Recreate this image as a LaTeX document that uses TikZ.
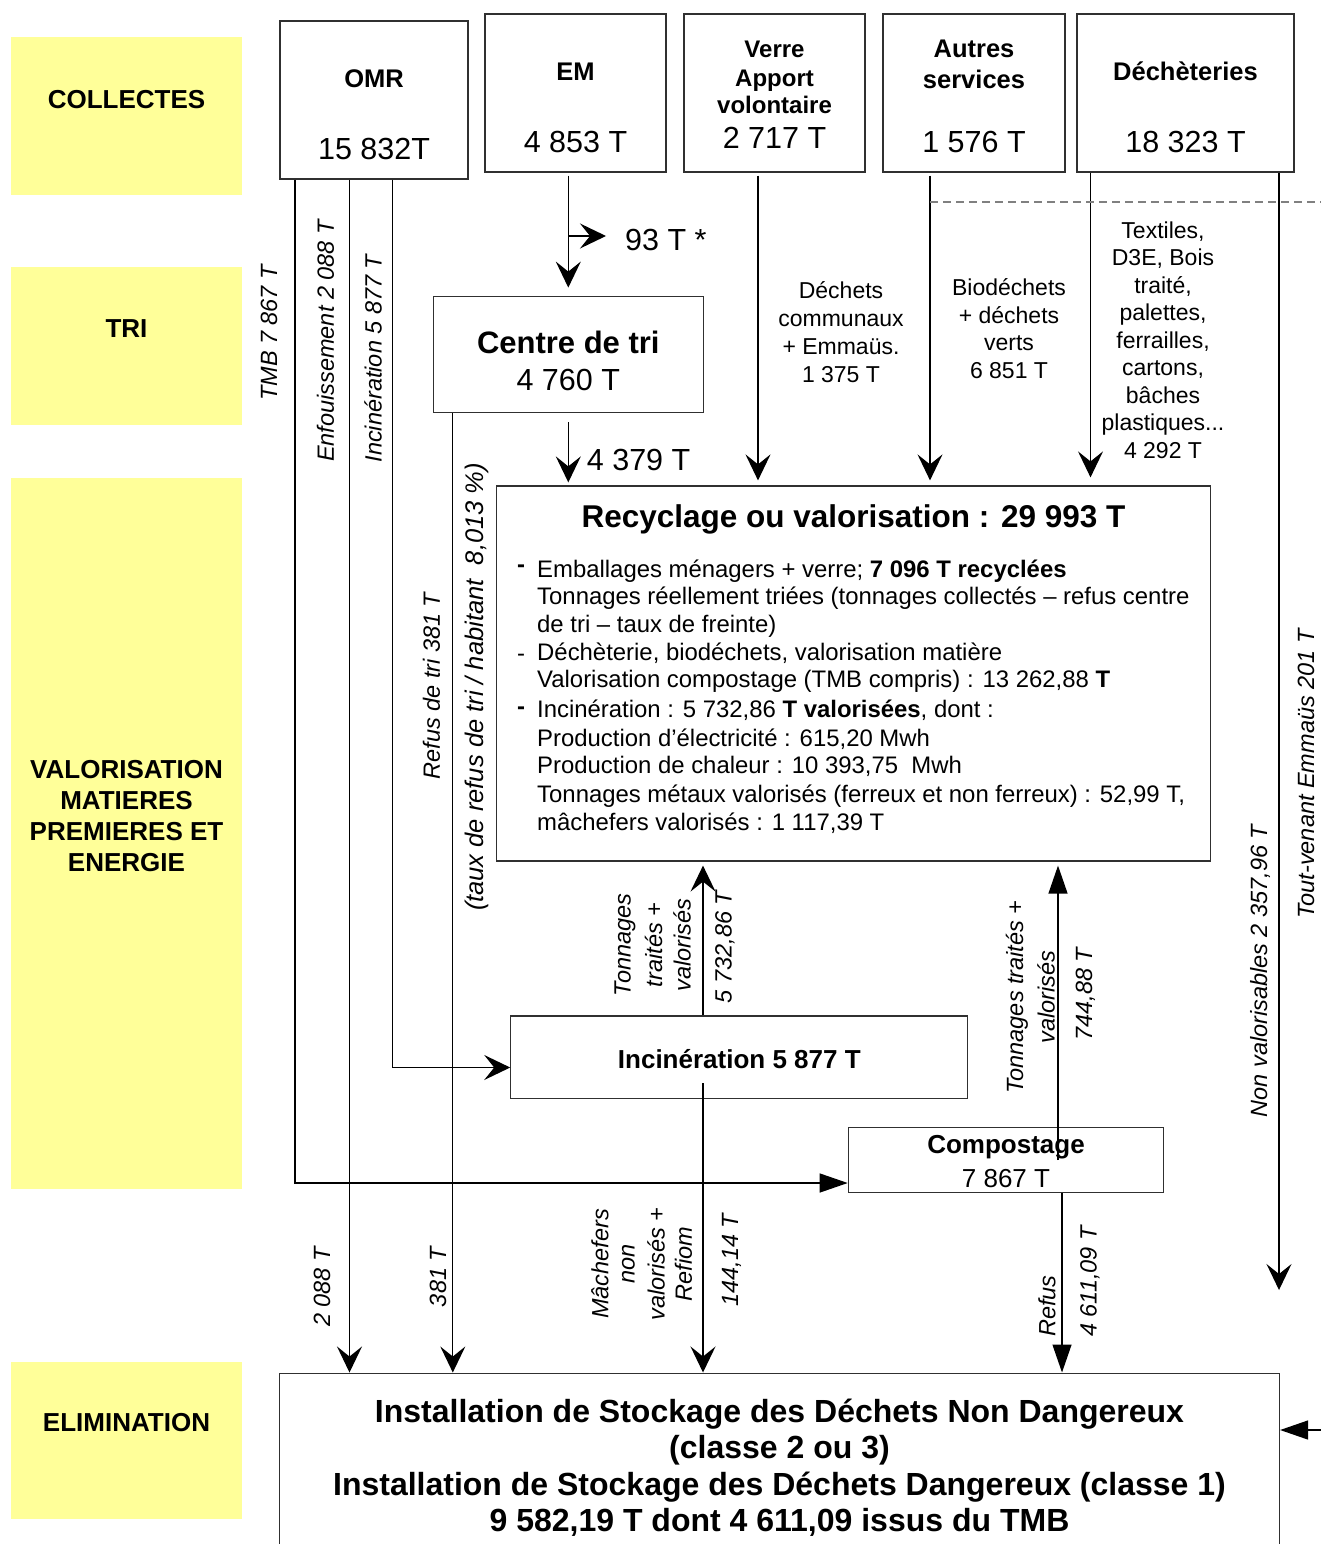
\documentclass[tikz,border=0pt]{standalone}
\usepackage{fontspec}
\setmainfont{Liberation Sans}
\usetikzlibrary{arrows.meta}
\definecolor{bandyellow}{HTML}{FFFF99}
\definecolor{boxline}{HTML}{303030}
\definecolor{dashgray}{HTML}{808080}
\newcommand\fsz[2]{\fontsize{#1}{#2}\selectfont}
\tikzset{
  band/.style={fill=bandyellow, draw=none, inner sep=0pt, minimum width=231pt},
  bandtxt/.style={font=\bfseries\fsz{26}{30.7}, align=center, inner sep=0pt},
  box/.style={draw=boxline, line width=1.2pt, inner sep=0pt},
  ttl/.style={font=\bfseries\fsz{25.5}{30}, inner sep=0pt, anchor=base},
  num/.style={font=\fsz{30.5}{36}, inner sep=0pt, anchor=base},
  body/.style={font=\fsz{23.9}{27.7}, inner sep=0pt, anchor=base west},
  note/.style={font=\fsz{23}{27.6}, inner sep=0pt, anchor=base},
  vlab/.style={font=\itshape\fsz{23.5}{28}, rotate=90, inner sep=0pt},
  flow/.style={line width=1.3pt, -{Stealth[length=26pt,width=25pt,inset=10pt]}},
  tri/.style={line width=1.3pt, -{Triangle[length=28pt,width=19pt]}},
}
\begin{document}
\begin{tikzpicture}[x=1pt,y=-1pt]
\useasboundingbox (0,0) rectangle (1321,1544);
\clip (0,0) rectangle (1321,1544);
\fill[white] (0,0) rectangle (1321,1544);

% bands
\node[band, minimum height=157pt] (bcol) at (126.5,116) {};
\node[band, minimum height=158pt] (btri) at (126.5,346) {};
\node[band, minimum height=711pt] (bval) at (126.5,833) {};
\node[band, minimum height=157pt] (belim) at (126.5,1440) {};
\node[bandtxt] (tcol) at (126.5,100) {COLLECTES};
\node[bandtxt] (ttri) at (126.5,329) {TRI};
\node[bandtxt] (tval) at (126.5,816) {VALORISATION\\MATIERES\\PREMIERES ET\\ENERGIE};
\node[bandtxt] (telim) at (126.5,1423) {ELIMINATION};

% top boxes
\node[box, minimum width=188pt, minimum height=158pt] (omr) at (374,100) {};
\node[ttl] (omrt) at (374,88) {OMR};
\node[num] (omrn) at (374,160) {15 832T};
\node[box, minimum width=181pt, minimum height=158pt] (em) at (575.5,93) {};
\node[ttl] (emt) at (575.5,81) {EM};
\node[num] (emn) at (575.5,153) {4 853 T};
\node[box, minimum width=181pt, minimum height=158pt] (verre) at (774.5,93) {};
\node[ttl, font=\bfseries\fsz{24}{28}] (vt1) at (774.5,58) {Verre};
\node[ttl, font=\bfseries\fsz{24}{28}] (vt2) at (774.5,86.5) {Apport};
\node[ttl, font=\bfseries\fsz{24}{28}] (vt3) at (774.5,113.5) {volontaire};
\node[num] (vn) at (774.5,148.5) {2 717 T};
\node[box, minimum width=182pt, minimum height=158pt] (autres) at (974,93) {};
\node[ttl] (at1) at (974,58) {Autres};
\node[ttl] (at2) at (974,89) {services};
\node[num] (an) at (974,152) {1 576 T};
\node[box, minimum width=217pt, minimum height=158pt] (dech) at (1185.5,93) {};
\node[ttl] (dt) at (1185.5,81) {Déchèteries};
\node[num] (dn) at (1185.5,152) {18 323 T};

% centre de tri
\node[box, minimum width=270pt, minimum height=116pt] (ctri) at (568.3,354.7) {};
\node[ttl, font=\bfseries\fsz{31}{36}] (ctrit) at (568.3,353) {Centre de tri};
\node[num] (ctrin) at (568.3,390) {4 760 T};

% notes
\node[note] (n1a) at (841,298) {Déchets};
\node[note] (n1b) at (841,326) {communaux};
\node[note] (n1c) at (841,354) {+ Emmaüs.};
\node[note] (n1d) at (841,382) {1 375 T};
\node[note] (n2a) at (1009,295) {Biodéchets};
\node[note] (n2b) at (1009,323) {+ déchets};
\node[note] (n2c) at (1009,350) {verts};
\node[note] (n2d) at (1009,378) {6 851 T};
\node[note] (n3a) at (1163,238) {Textiles,};
\node[note] (n3b) at (1163,265.5) {D3E, Bois};
\node[note] (n3c) at (1163,293) {traité,};
\node[note] (n3d) at (1163,320.5) {palettes,};
\node[note] (n3e) at (1163,348) {ferrailles,};
\node[note] (n3f) at (1163,375.5) {cartons,};
\node[note] (n3g) at (1163,403) {bâches};
\node[note] (n3h) at (1163,430.5) {plastiques...};
\node[note] (n3i) at (1163,458) {4 292 T};

% recyclage
\node[box, minimum width=714pt, minimum height=375pt] (rec) at (853.5,673.5) {};
\node[ttl, font=\bfseries\fsz{31.5}{36}] (rect) at (853.5,527) {Recyclage ou valorisation : 29 993 T};
\node[font=\bfseries\fsz{23.9}{28}, inner sep=0pt, anchor=base] (d1) at (521,572.5) {-};
\node[font=\fsz{23.9}{28}, inner sep=0pt, anchor=base] (d2) at (521,661) {-};
\node[font=\bfseries\fsz{23.9}{28}, inner sep=0pt, anchor=base] (d3) at (521,714.5) {-};
\node[body] (r1) at (537,577) {Emballages ménagers + verre; \textbf{7 096 T recyclées}};
\node[body] (r2) at (537,604.5) {Tonnages réellement triées (tonnages collectés – refus centre};
\node[body] (r3) at (537,632) {de tri – taux de freinte)};
\node[body] (r4) at (537,660) {Déchèterie, biodéchets, valorisation matière};
\node[body] (r5) at (537,687) {Valorisation compostage (TMB compris) : 13 262,88 \textbf{T}};
\node[body] (r6) at (537,717) {Incinération : 5 732,86 \textbf{T valorisées}, dont :};
\node[body] (r7) at (537,746.5) {Production d'électricité : 615,20 Mwh};
\node[body] (r8) at (537,773.5) {Production de chaleur : 10 393,75\ \ Mwh};
\node[body] (r9) at (537,802) {Tonnages métaux valorisés (ferreux et non ferreux) : 52,99 T,};
\node[body] (r10) at (537,830) {mâchefers valorisés : 1 117,39 T};

% incineration
\node[box, minimum width=457pt, minimum height=82.5pt] (inc) at (739.3,1057.3) {};
\node[ttl, font=\bfseries\fsz{26}{30}] (inct) at (739.3,1068) {Incinération 5 877 T};

% compostage
\node[box, minimum width=315.4pt, minimum height=65pt] (comp) at (1006,1159.8) {};
\node[ttl, font=\bfseries\fsz{26}{30}] (compt) at (1006,1153) {Compostage};
\node[num, font=\fsz{26}{30}] (compn) at (1006,1187) {7 867 T};

% ISDND
\node[box, minimum width=1000pt, minimum height=190pt, anchor=north] (isd) at (779.5,1372.5) {};
\node[ttl, font=\bfseries\fsz{32}{36}] (i1) at (779.5,1422) {Installation de Stockage des Déchets Non Dangereux};
\node[ttl, font=\bfseries\fsz{32}{36}] (i2) at (779.5,1458) {(classe 2 ou 3)};
\node[ttl, font=\bfseries\fsz{32}{36}] (i3) at (779.5,1495) {Installation de Stockage des Déchets Dangereux (classe 1)};
\node[ttl, font=\bfseries\fsz{32}{36}] (i4) at (779.5,1531) {9 582,19 T dont 4 611,09 issus du TMB};

% coordinates
\coordinate (xEnf) at (349.5,0);
\coordinate (xRef) at (452.8,0);
\coordinate (xEM) at (568.3,0);
\coordinate (xIn) at (703,0);
\coordinate (xV) at (758,0);
\coordinate (xA) at (930,0);
\coordinate (xD) at (1090.5,0);
\coordinate (xR) at (1279,0);
\coordinate (xCo) at (1062,0);
\coordinate (tmbturn) at (295,1183);
\coordinate (incturn) at (392.7,1067.5);
\coordinate (br) at (568.3,236);
\coordinate (br93) at (606,236);
\coordinate (incout) at (703,1083);
\coordinate (compin) at (1058,1160);
\coordinate (nvend) at (1279,1290);
\coordinate (dashL) at (930,202);
\coordinate (dashR) at (1321,202);
\coordinate (rin) at (1321,1430);

% connectors
\draw[tri] (omr.south -| tmbturn) -- (tmbturn) -- (tmbturn -| comp.west);
\draw[flow] (omr.south -| xEnf) -- (isd.north -| xEnf);
\draw[flow] (omr.south -| incturn) -- (incturn) -- (incturn -| inc.west);
\draw[flow] (ctri.south -| xRef) -- (isd.north -| xRef);
\draw[flow, shorten <=3pt, shorten >=8.5pt] (em.south -| xEM) -- (ctri.north);
\draw[flow] (br) -- (br93);
\draw[flow, shorten <=9pt, shorten >=3pt] (ctri.south) -- (ctri.south |- rec.north);
\draw[flow, shorten <=3pt, shorten >=5pt] (verre.south -| xV) -- (rec.north -| xV);
\draw[flow, shorten <=3pt, shorten >=5pt] (autres.south -| xA) -- (rec.north -| xA);
\draw[flow, shorten >=8pt] (dech.south -| xD) -- (rec.north -| xD);
\draw[flow] (dech.south -| xR) -- (nvend);
\draw[dashgray, line width=1.2pt, dash pattern=on 8pt off 5pt] (dashL) -- (dashR);
\draw[flow, shorten >=4pt] (inc.north -| xIn) -- (rec.south -| xIn);
\draw[flow] (incout) -- (isd.north -| xIn);
\draw[tri, shorten >=4pt] (compin) -- (rec.south -| compin);
\draw[tri] (comp.south -| xCo) -- (isd.north -| xCo);
\draw[tri] (rin) -- (rin -| isd.east);

% labels
\node[num, anchor=base west] (l93) at (625,250) {93 T *};
\node[num, anchor=base west] (l4379) at (586.7,470) {4 379 T};
\node[vlab] (lTMB) at (269,333) {TMB 7 867 T};
\node[vlab] (lEnf) at (325.5,341) {Enfouissement 2 088 T};
\node[vlab] (lInc) at (373,358.5) {Incinération 5 877 T};
\node[vlab] (lRef) at (431.5,686) {Refus de tri 381 T};
\node[vlab, font=\itshape\fsz{25.5}{30}] (lTaux) at (477,687) {(taux de refus de tri / habitant\ \ 8,013 \%)};
\node[vlab] (l2088) at (322,1287) {2 088 T};
\node[vlab] (l381) at (438,1277) {381 T};
\node[vlab] (lM1) at (600,1264) {Mâchefers};
\node[vlab] (lM2) at (628.5,1264) {non};
\node[vlab] (lM3) at (656,1264) {valorisés +};
\node[vlab] (lM4) at (683.5,1264) {Refiom};
\node[vlab] (l144) at (731.5,1260) {144,14 T};
\node[vlab] (lT1) at (625,945) {Tonnages};
\node[vlab] (lT2) at (653.5,945) {traités +};
\node[vlab] (lT3) at (682,945) {valorisés};
\node[vlab] (l5732) at (725,947) {5 732,86 T};
\node[vlab] (lC1) at (1017,997) {Tonnages traités +};
\node[vlab] (lC2) at (1046,997) {valorisés};
\node[vlab] (l744) at (1085.5,994) {744,88 T};
\node[vlab, anchor=west] (lRefus) at (1047,1337) {Refus};
\node[vlab, anchor=west] (l4611) at (1090,1337) {4 611,09 T};
\node[vlab] (lNV) at (1260,971) {Non valorisables 2 357,96 T};
\node[vlab] (lTV) at (1306,774) {Tout-venant Emmaüs 201 T};
\end{tikzpicture}
\end{document}
